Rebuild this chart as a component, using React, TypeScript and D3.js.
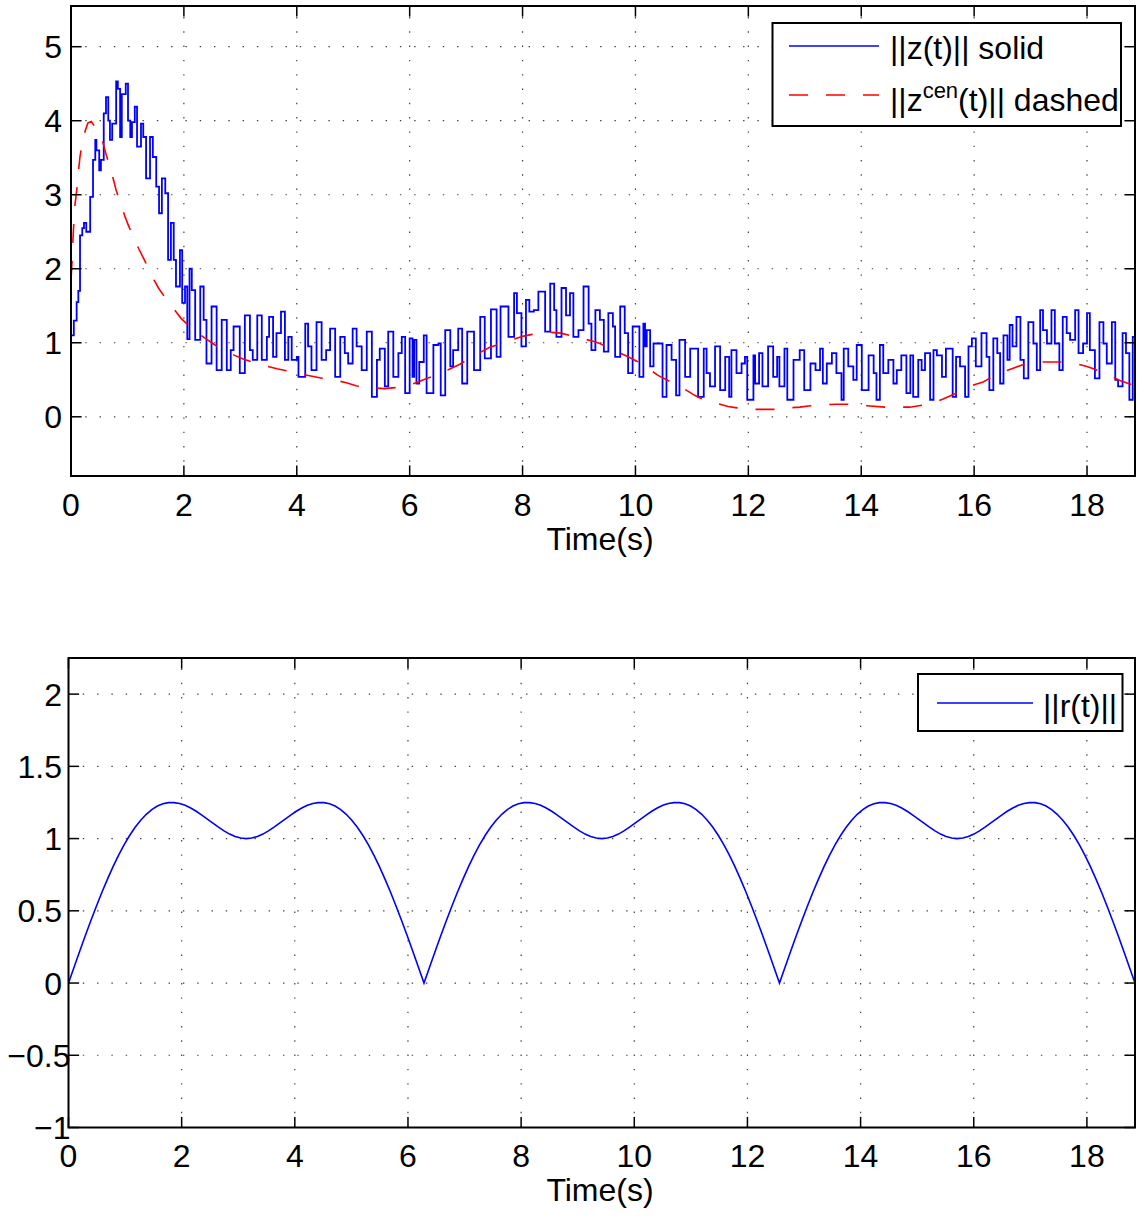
import React from 'react';
import * as d3 from 'd3';

// ---------- data ----------
const zTime = [0.00,0.05,0.10,0.13,0.16,0.20,0.23,0.27,0.34,0.39,0.43,0.45,0.50,0.53,0.58,0.62,0.66,0.69,0.73,0.80,0.83,0.87,0.90,0.97,1.01,1.05,1.08,1.13,1.17,1.24,1.28,1.33,1.40,1.45,1.51,1.56,1.61,1.67,1.72,1.77,1.82,1.86,1.93,1.97,2.02,2.06,2.10,2.14,2.20,2.29,2.35,2.40,2.49,2.58,2.67,2.76,2.83,2.88,2.99,3.08,3.17,3.22,3.30,3.38,3.47,3.51,3.58,3.64,3.72,3.79,3.85,3.91,4.00,4.03,4.15,4.20,4.26,4.35,4.44,4.52,4.59,4.68,4.77,4.85,4.91,4.99,5.06,5.15,5.24,5.33,5.42,5.47,5.56,5.62,5.71,5.80,5.86,5.92,6.00,6.05,6.08,6.12,6.17,6.25,6.30,6.42,6.51,6.55,6.63,6.72,6.77,6.86,6.93,7.02,7.14,7.25,7.33,7.44,7.54,7.61,7.75,7.85,7.90,7.98,8.06,8.12,8.20,8.28,8.40,8.49,8.56,8.60,8.69,8.77,8.84,8.90,8.99,9.08,9.17,9.22,9.29,9.37,9.44,9.52,9.60,9.64,9.73,9.81,9.87,9.95,10.07,10.14,10.17,10.20,10.26,10.32,10.40,10.48,10.55,10.64,10.72,10.78,10.88,10.97,11.11,11.21,11.26,11.32,11.41,11.50,11.59,11.66,11.70,11.79,11.88,11.94,11.98,12.09,12.12,12.19,12.25,12.35,12.44,12.51,12.55,12.64,12.69,12.80,12.91,12.99,13.10,13.19,13.27,13.32,13.39,13.48,13.56,13.65,13.69,13.77,13.86,13.92,14.01,14.13,14.22,14.27,14.33,14.39,14.48,14.57,14.63,14.71,14.80,14.87,14.92,15.01,15.07,15.13,15.22,15.28,15.34,15.43,15.50,15.56,15.62,15.68,15.75,15.84,15.90,15.96,16.03,16.13,16.22,16.27,16.34,16.41,16.46,16.52,16.59,16.63,16.68,16.75,16.82,16.88,16.96,17.05,17.11,17.17,17.22,17.29,17.37,17.43,17.51,17.57,17.64,17.70,17.79,17.85,17.93,18.00,18.05,18.14,18.22,18.29,18.35,18.44,18.50,18.55,18.63,18.69,18.75,18.81,18.85];
const zNorm = [1.10,1.30,1.55,1.70,2.45,2.55,2.62,2.50,2.97,3.47,3.74,3.60,3.33,3.47,4.10,4.32,4.00,3.74,3.96,4.53,4.43,3.78,4.36,4.50,4.00,3.78,3.98,4.19,3.65,3.96,3.78,3.22,3.78,3.51,3.11,2.75,3.22,3.02,2.12,2.62,2.12,1.76,2.25,1.54,1.76,1.05,2.00,1.71,1.04,1.76,1.31,0.72,1.49,0.63,1.31,0.63,0.90,1.22,0.59,1.37,0.90,0.77,1.37,0.77,1.08,1.35,0.81,1.13,1.42,0.77,1.08,0.77,0.81,0.54,1.26,0.95,0.63,1.28,0.77,0.90,1.19,0.54,1.08,0.86,0.72,1.19,0.95,0.63,1.15,0.27,0.77,0.92,0.41,1.15,0.54,0.86,1.08,0.32,1.06,0.54,1.04,0.45,0.74,1.10,0.32,0.97,0.99,0.29,1.17,0.68,0.90,1.19,0.45,1.15,0.63,1.35,0.79,1.45,0.81,1.49,1.08,1.67,1.40,0.95,1.58,1.42,1.44,1.69,1.15,1.80,1.44,1.08,1.74,1.37,1.67,1.08,1.17,1.76,1.26,0.90,1.44,1.31,0.88,1.40,1.22,0.81,1.49,1.13,0.59,1.22,0.54,1.26,0.95,1.17,0.68,0.99,0.99,0.27,0.97,0.77,0.29,1.04,0.54,0.92,0.27,0.92,0.59,0.41,0.95,0.36,0.81,0.27,0.90,0.59,0.72,0.81,0.23,0.83,0.45,0.86,0.41,0.95,0.54,0.81,0.41,0.92,0.23,0.77,0.90,0.36,0.72,0.63,0.92,0.45,0.72,0.86,0.59,0.23,0.92,0.68,0.50,0.97,0.36,0.83,0.59,0.23,0.97,0.59,0.77,0.45,0.63,0.83,0.32,0.83,0.27,0.77,0.63,0.86,0.23,0.90,0.83,0.54,0.92,0.92,0.27,0.81,0.68,0.27,0.95,1.06,0.68,1.13,0.81,0.36,1.06,0.86,0.45,1.10,0.77,1.24,0.95,1.35,0.77,0.52,1.28,0.99,0.63,1.44,1.17,0.99,1.44,0.99,0.63,1.35,1.13,1.04,1.44,0.86,0.99,1.40,0.90,0.52,1.28,0.99,0.72,1.28,0.50,0.41,1.13,0.86,0.23,1.08,1.05];

const zCenTime = [0.00,0.02,0.035,0.05,0.07,0.10,0.13,0.16,0.20,0.25,0.30,0.36,0.42,0.48,0.55,0.62,0.68,0.74,0.80,0.88,0.95,1.02,1.12,1.20,1.28,1.38,1.47,1.55,1.65,1.75,1.85,1.95,2.10,2.25,2.40,2.55,2.70,2.87,3.05,3.21,3.35,3.49,3.65,3.83,4.06,4.25,4.45,4.71,4.88,5.05,5.20,5.35,5.55,5.70,5.85,6.00,6.15,6.31,6.45,6.57,6.72,6.89,7.00,7.10,7.25,7.42,7.55,7.69,7.85,8.02,8.15,8.31,8.50,8.68,8.88,9.10,9.25,9.37,9.55,9.70,9.87,10.00,10.12,10.25,10.40,10.55,10.74,10.90,11.05,11.15,11.27,11.45,11.64,11.80,11.94,12.20,12.47,12.70,12.91,13.10,13.27,13.55,13.80,14.10,14.42,14.65,14.86,15.10,15.31,15.45,15.57,15.75,15.89,16.03,16.16,16.30,16.46,16.67,16.85,17.08,17.34,17.55,17.73,18.00,18.15,18.32,18.45,18.58,18.85];
const zCenNorm = [1.85,2.12,2.40,2.62,2.86,3.05,3.30,3.52,3.70,3.86,3.97,3.99,3.92,3.86,3.75,3.55,3.40,3.24,3.06,2.88,2.72,2.58,2.41,2.27,2.15,1.99,1.85,1.74,1.63,1.53,1.43,1.33,1.22,1.13,1.05,0.97,0.91,0.84,0.78,0.74,0.71,0.68,0.65,0.62,0.58,0.55,0.52,0.49,0.46,0.42,0.40,0.39,0.38,0.39,0.40,0.43,0.47,0.52,0.56,0.59,0.65,0.71,0.76,0.81,0.87,0.94,0.97,1.00,1.05,1.09,1.11,1.13,1.14,1.13,1.09,1.05,1.02,0.99,0.92,0.87,0.81,0.76,0.71,0.64,0.56,0.50,0.43,0.36,0.29,0.25,0.22,0.18,0.14,0.12,0.10,0.10,0.10,0.12,0.13,0.15,0.16,0.17,0.17,0.15,0.13,0.13,0.13,0.16,0.20,0.24,0.28,0.34,0.40,0.44,0.47,0.53,0.59,0.65,0.70,0.74,0.74,0.74,0.73,0.68,0.64,0.58,0.54,0.49,0.42];

const rStep = 0.0981748; // sampling interval of ||r(t)|| (s)
const rNorm = [
0.000,0.110,0.218,0.325,0.430,0.530,0.627,0.718,0.804,0.883,0.956,1.021,1.078,1.127,1.168,1.201,1.225,1.241,1.249,1.249,1.243,1.230,1.212,1.189,1.163,1.135,1.107,1.079,1.053,1.031,1.014,1.004,1.000,1.004,1.014,1.031,1.053,1.079,1.107,1.135,1.163,1.189,1.212,1.230,1.243,1.249,1.249,1.241,1.225,1.201,1.168,1.127,1.078,1.021,0.956,0.883,0.804,0.718,0.627,0.530,0.430,0.325,0.218,0.110,
0.000,0.110,0.218,0.325,0.430,0.530,0.627,0.718,0.804,0.883,0.956,1.021,1.078,1.127,1.168,1.201,1.225,1.241,1.249,1.249,1.243,1.230,1.212,1.189,1.163,1.135,1.107,1.079,1.053,1.031,1.014,1.004,1.000,1.004,1.014,1.031,1.053,1.079,1.107,1.135,1.163,1.189,1.212,1.230,1.243,1.249,1.249,1.241,1.225,1.201,1.168,1.127,1.078,1.021,0.956,0.883,0.804,0.718,0.627,0.530,0.430,0.325,0.218,0.110,
0.000,0.110,0.218,0.325,0.430,0.530,0.627,0.718,0.804,0.883,0.956,1.021,1.078,1.127,1.168,1.201,1.225,1.241,1.249,1.249,1.243,1.230,1.212,1.189,1.163,1.135,1.107,1.079,1.053,1.031,1.014,1.004,1.000,1.004,1.014,1.031,1.053,1.079,1.107,1.135,1.163,1.189,1.212,1.230,1.243,1.249,1.249,1.241,1.225,1.201,1.168,1.127,1.078,1.021,0.956,0.883,0.804,0.718,0.627,0.530,0.430,0.325,0.218,0.110,
0.000];

const xTicks = [0, 2, 4, 6, 8, 10, 12, 14, 16, 18];
const xDomain = [0, 18.85];
const topYTicks = [0, 1, 2, 3, 4, 5];
const topYDomain = [-0.8, 5.55];
const botYTicks = [-1, -0.5, 0, 0.5, 1, 1.5, 2];
const botYDomain = [-1, 2.25];
const xLabel = 'Time(s)';

const FONT = '"Liberation Sans", Arial, Helvetica, sans-serif';
const FS = 32;
const TICK = 10.6;

type Box = { left: number; right: number; top: number; bottom: number };

function fmt(v: number) {
  const s = String(Math.abs(v));
  return v < 0 ? '\u2212' + s : s;
}

function Axes({ box, yDomain, yTicks, id, children }: { box: Box; yDomain: number[]; yTicks: number[]; id: string; children: (x: d3.ScaleLinear<number, number>, y: d3.ScaleLinear<number, number>) => React.ReactNode }) {
  const x = d3.scaleLinear().domain(xDomain).range([box.left, box.right]);
  const y = d3.scaleLinear().domain(yDomain).range([box.bottom, box.top]);
  const gridStyle = { stroke: '#000', strokeWidth: 1.2, strokeDasharray: '1.4 12.9', opacity: 0.75 };
  return (
    <g>
      <clipPath id={id}>
        <rect x={box.left} y={box.top} width={box.right - box.left} height={box.bottom - box.top} />
      </clipPath>
      {xTicks.filter((t) => t > 0).map((t) => (
        <line key={'gx' + t} x1={x(t)} x2={x(t)} y1={box.bottom} y2={box.top} style={gridStyle} />
      ))}
      {yTicks.filter((t) => y(t) < box.bottom - 1 && y(t) > box.top + 1).map((t) => (
        <line key={'gy' + t} x1={box.left} x2={box.right} y1={y(t)} y2={y(t)} style={gridStyle} />
      ))}
      <g clipPath={`url(#${id})`}>{children(x, y)}</g>
      <rect x={box.left} y={box.top} width={box.right - box.left} height={box.bottom - box.top} fill="none" stroke="#000" strokeWidth={2} />
      {xTicks.map((t) => (
        <g key={'tx' + t}>
          <line x1={x(t)} x2={x(t)} y1={box.bottom} y2={box.bottom - TICK} stroke="#000" strokeWidth={1.5} />
          <line x1={x(t)} x2={x(t)} y1={box.top} y2={box.top + TICK} stroke="#000" strokeWidth={1.5} />
          <text x={x(t)} y={box.bottom + 39.5} textAnchor="middle" fontSize={FS}>{fmt(t)}</text>
        </g>
      ))}
      {yTicks.map((t) => (
        <g key={'ty' + t}>
          <line x1={box.left} x2={box.left + TICK} y1={y(t)} y2={y(t)} stroke="#000" strokeWidth={1.5} />
          <line x1={box.right} x2={box.right - TICK} y1={y(t)} y2={y(t)} stroke="#000" strokeWidth={1.5} />
          <text x={t < 0 ? box.left + 2 : 62} y={y(t) + 11.5} textAnchor="end" fontSize={FS}>{fmt(t)}</text>
        </g>
      ))}
      <text x={600} y={box.bottom + 73.5} textAnchor="middle" fontSize={FS}>{xLabel}</text>
    </g>
  );
}

export default function App() {
  const topBox: Box = { left: 71, right: 1135, top: 6, bottom: 476 };
  const botBox: Box = { left: 68.5, right: 1135, top: 658, bottom: 1127.5 };
  return (
    <svg width={1138} height={1217} style={{ position: 'absolute', left: 0, top: 0, background: '#fff' }} fontFamily={FONT}>
      <rect x={0} y={0} width={1138} height={1217} fill="#fff" />
      <Axes box={topBox} yDomain={topYDomain} yTicks={topYTicks} id="clipTop">
        {(x, y) => {
          const zLine = d3.line<number>().x((_, i) => x(zTime[i])).y((d) => y(d)).curve(d3.curveStepAfter);
          const cLine = d3.line<number>().x((_, i) => x(zCenTime[i])).y((d) => y(d));
          return (
            <>
              <path d={zLine(zNorm) || ''} fill="none" stroke="#0000ff" strokeWidth={1.8} />
              <path d={cLine(zCenNorm) || ''} fill="none" stroke="#ff0000" strokeWidth={1.6} strokeDasharray="19 18" />
            </>
          );
        }}
      </Axes>
      <Axes box={botBox} yDomain={botYDomain} yTicks={botYTicks} id="clipBot">
        {(x, y) => {
          const rLine = d3.line<number>().x((_, i) => x(i * rStep)).y((d) => y(d));
          return <path d={rLine(rNorm) || ''} fill="none" stroke="#0000ff" strokeWidth={1.6} />;
        }}
      </Axes>
      {/* top legend */}
      <g>
        <rect x={772.5} y={23} width={348.5} height={103} fill="#fff" stroke="#000" strokeWidth={2} />
        <line x1={789} x2={879} y1={46} y2={46} stroke="#0000ff" strokeWidth={1.6} />
        <line x1={789} x2={879} y1={95} y2={95} stroke="#ff0000" strokeWidth={1.6} strokeDasharray="19 18" />
        <text x={890} y={59} fontSize={FS}>||z(t)|| solid</text>
        <text x={890} y={111} fontSize={FS}>
          ||z<tspan dy={-13} fontSize={22}>cen</tspan><tspan dy={13}>(t)|| dashed</tspan>
        </text>
      </g>
      {/* bottom legend */}
      <g>
        <rect x={918} y={674} width={204.5} height={57} fill="#fff" stroke="#000" strokeWidth={2} />
        <line x1={937} x2={1033} y1={703} y2={703} stroke="#0000ff" strokeWidth={1.6} />
        <text x={1043} y={717} fontSize={FS}>||r(t)||</text>
      </g>
    </svg>
  );
}
